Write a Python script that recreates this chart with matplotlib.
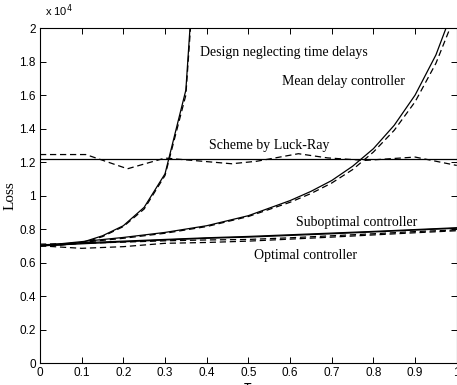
import matplotlib

matplotlib.use("Agg")

import matplotlib.pyplot as plt

# loss values in units of 1e4
x_grid = [0.0, 0.1, 0.2, 0.3, 0.4, 0.5, 0.6, 0.7, 0.8, 0.9, 1.0]

neglect_x = [0.0, 0.05, 0.1, 0.15, 0.2, 0.25, 0.3, 0.35, 0.4]
neglect_solid = [0.70, 0.705, 0.72, 0.76, 0.82, 0.93, 1.13, 1.63, 3.5]
neglect_dash = [0.70, 0.705, 0.715, 0.755, 0.815, 0.92, 1.12, 1.60, 3.4]

mean_x = [0.0, 0.1, 0.2, 0.3, 0.4, 0.5, 0.6, 0.65, 0.7, 0.75, 0.8, 0.85,
          0.9, 0.95, 1.0]
mean_solid = [0.70, 0.725, 0.75, 0.78, 0.82, 0.88, 0.97, 1.025, 1.09, 1.175,
              1.28, 1.42, 1.60, 1.84, 2.17]
mean_dash = [0.70, 0.72, 0.745, 0.775, 0.815, 0.875, 0.96, 1.012, 1.075,
             1.155, 1.26, 1.39, 1.56, 1.79, 2.10]

luck_solid = [1.22] * 11
luck_dash_x = [0.0, 0.11, 0.21, 0.30, 0.46, 0.52, 0.62, 0.69, 0.78, 0.90, 1.0]
luck_dash = [1.245, 1.245, 1.16, 1.224, 1.19, 1.205, 1.25, 1.225, 1.21, 1.23, 1.18]

opt_solid = [0.70, 0.712, 0.724, 0.735, 0.745, 0.752, 0.762, 0.772, 0.783, 0.794, 0.805]
opt_dash = [0.70, 0.685, 0.695, 0.715, 0.72, 0.728, 0.74, 0.752, 0.765, 0.778, 0.79]
sub_solid = [0.705, 0.718, 0.728, 0.738, 0.748, 0.756, 0.766, 0.776, 0.786, 0.797, 0.808]
sub_dash = [0.71, 0.715, 0.722, 0.73, 0.735, 0.738, 0.748, 0.76, 0.772, 0.785, 0.795]

x_ticks = [0, 0.1, 0.2, 0.3, 0.4, 0.5, 0.6, 0.7, 0.8, 0.9, 1]
x_labels = ["0", "0.1", "0.2", "0.3", "0.4", "0.5", "0.6", "0.7", "0.8", "0.9", "1"]
y_ticks = [0, 0.2, 0.4, 0.6, 0.8, 1.0, 1.2, 1.4, 1.6, 1.8, 2.0]
y_labels = ["0", "0.2", "0.4", "0.6", "0.8", "1", "1.2", "1.4", "1.6", "1.8", "2"]

fig = plt.figure(figsize=(4.57, 3.85), dpi=100)
ax = fig.add_axes([0.0875, 0.057, 0.912, 0.870])

solid = dict(color="black", linewidth=0.9)
dashed = dict(color="black", linewidth=0.9, linestyle=(0, (5, 3)))

ax.plot(neglect_x, neglect_solid, **solid)
ax.plot(neglect_x, neglect_dash, **dashed)
ax.plot(mean_x, mean_solid, **solid)
ax.plot(mean_x, mean_dash, **dashed)
ax.plot(x_grid, luck_solid, **solid)
ax.plot(luck_dash_x, luck_dash, **dashed)
ax.plot(x_grid, opt_solid, **solid)
ax.plot(x_grid, opt_dash, **dashed)
ax.plot(x_grid, sub_solid, **solid)
ax.plot(x_grid, sub_dash, **dashed)

ax.set_xlim(0, 1)
ax.set_ylim(0, 2)
ax.set_xticks(x_ticks)
ax.set_xticklabels(x_labels)
ax.set_yticks(y_ticks)
ax.set_yticklabels(y_labels)
ax.tick_params(direction="in", top=True, right=True, length=4, width=0.7,
               labelsize=8.5, pad=3)
for lbl in ax.get_xticklabels() + ax.get_yticklabels():
    lbl.set_family("Liberation Sans")
for sp in ax.spines.values():
    sp.set_linewidth(0.8)

serif = dict(family="Liberation Serif", fontsize=10, va="center", ha="left")
ax.text(0.384, 1.857, "Design neglecting time delays", **serif)
ax.text(0.58, 1.68, "Mean delay controller", **serif)
ax.text(0.405, 1.30, "Scheme by Luck-Ray", **serif)
ax.text(0.614, 0.842, "Suboptimal controller", **serif)
ax.text(0.513, 0.645, "Optimal controller", **serif)

ax.set_ylabel("Loss", family="Liberation Serif", fontsize=11, labelpad=2)
fig.text(0.099, 0.972, r"x 10$^4$", family="Liberation Sans", fontsize=8,
         ha="left", va="center")
fig.text(0.54, -0.005, r"$\tau$", fontsize=10, ha="center", va="center")

fig.savefig("out.png", dpi=100)
